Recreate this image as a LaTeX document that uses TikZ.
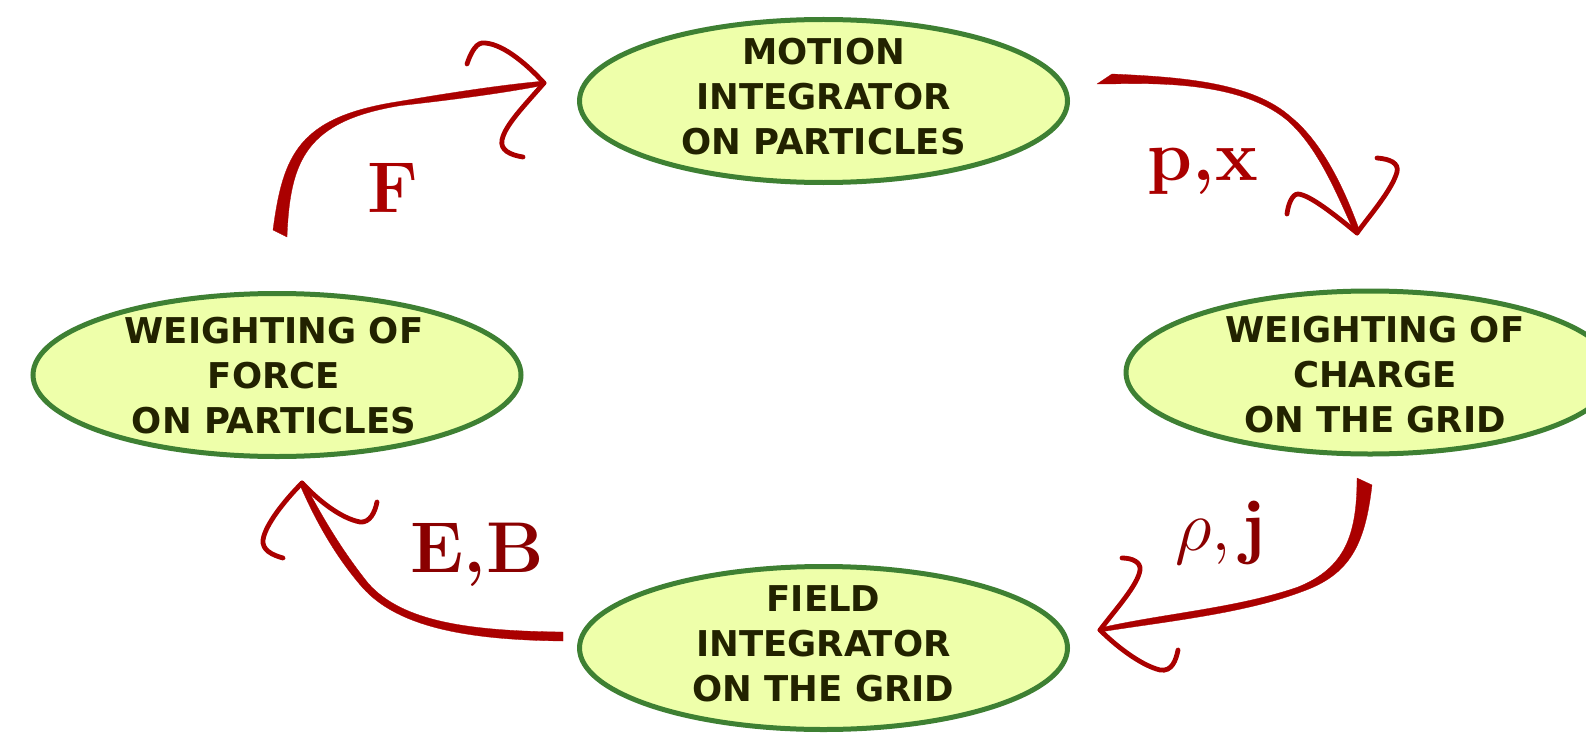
\RequirePackage{fix-cm}
\documentclass[tikz,border=0pt]{standalone}
\usepackage{fontspec}
\newfontfamily\nodefont{DejaVu Sans}
\usetikzlibrary{shapes.geometric}
\definecolor{arrred}{HTML}{AA0000}
\definecolor{labred}{HTML}{8A0000}
\definecolor{bubfill}{HTML}{EEFFAA}
\definecolor{bubline}{HTML}{3E8033}
\definecolor{txtdark}{HTML}{222200}
\begin{document}
\begin{tikzpicture}[x=1pt,y=-1pt,
 bubble/.style={ellipse, draw=bubline, fill=bubfill, line width=5pt, minimum width=488pt, minimum height=163pt, inner sep=0pt},
 btext/.style={font=\nodefont\bfseries\fontsize{35.5}{45}\selectfont, text=txtdark, align=center, inner sep=0pt},
 shaft/.style={fill=arrred, draw=arrred, line width=0.3pt, line join=round},
 barb/.style={draw=arrred, line width=4.8pt, line cap=round},
 lab/.style={font=\fontsize{72}{80}\selectfont, anchor=base, inner sep=0pt}]
\useasboundingbox (0,0) rectangle (1586,733);

% bubbles
\node[bubble] (motion) at (823.5,101) {};
\node[bubble] (charge) at (1370,372.5) {};
\node[bubble] (field) at (823.5,648) {};
\node[bubble] (force) at (277,375) {};
\node[btext] (motiont) at (823.5,97) {MOTION\\INTEGRATOR\\ON PARTICLES};
\node[btext] (charget) at (1375,375) {WEIGHTING OF\\CHARGE\\ON THE GRID};
\node[btext] (fieldt) at (823.5,644) {FIELD\\INTEGRATOR\\ON THE GRID};
\node[btext] (forcet) at (274,375.5) {WEIGHTING OF\\FORCE\\ON PARTICLES};

% tips
\coordinate (tipF) at (544,83);
\coordinate (tipP) at (1357,233);
\coordinate (tipE) at (302,483);
\coordinate (tipR) at (1100,630);

% arrow F
\path[shaft] (273,230) .. controls (283,155) and (298,117) .. (399,101.5)
  .. controls (460,91) and (510,84) .. (545,81) -- (545,85)
  .. controls (510,92) and (460,99) .. (401,105.5)
  .. controls (306,121) and (290,160) .. (287,237) -- cycle;
\draw[barb] (tipF) .. controls (525,62) and (500,42) .. (482,43) .. controls (475,44) and (470,55) .. (467,64);
\draw[barb] (tipF) .. controls (525,105) and (505,125) .. (502,140) .. controls (500,150) and (510,155) .. (523,157);

% arrow p,x
\path[shaft] (1097,84) -- (1112,74) .. controls (1180,77) and (1252,82) .. (1291,117)
  .. controls (1323,143) and (1345,190) .. (1360,232) -- (1355,234)
  .. controls (1336,192) and (1318,148) .. (1288,121)
  .. controls (1248,87) and (1180,82) .. (1110,84) -- cycle;
\draw[barb] (tipP) .. controls (1335,215) and (1310,195) .. (1298,194) .. controls (1292,194) and (1288,205) .. (1287,214);
\draw[barb] (tipP) .. controls (1370,215) and (1392,190) .. (1397,172) .. controls (1399,163) and (1390,159) .. (1377,158);

% arrow E,B
\path[shaft] (563,632) .. controls (470,631) and (402,622) .. (368,583)
  .. controls (344,553) and (323,519) .. (304,482) -- (300,485)
  .. controls (316,522) and (336,557) .. (362,587)
  .. controls (398,628) and (470,640) .. (563,641) -- cycle;
\draw[barb] (tipE) .. controls (285,500) and (265,525) .. (263,540) .. controls (262,550) and (272,555) .. (283,558);
\draw[barb] (tipE) .. controls (318,500) and (340,518) .. (360,522) .. controls (370,523) and (375,512) .. (377,502);

% arrow rho,j
\path[shaft] (1357,478) -- (1372,485) .. controls (1365,545) and (1350,575) .. (1301,592)
  .. controls (1242,614) and (1162,622) .. (1100,632) -- (1100,628)
  .. controls (1160,614) and (1238,608) .. (1298,587)
  .. controls (1345,568) and (1357,535) .. (1357,478) -- cycle;
\draw[barb] (tipR) .. controls (1115,610) and (1138,585) .. (1140,570) .. controls (1141,562) and (1132,558) .. (1122,558);
\draw[barb] (tipR) .. controls (1115,645) and (1140,665) .. (1160,670) .. controls (1172,672) and (1176,660) .. (1178,650);

% labels
\node[lab, text=arrred] (labF) at (393,212) {\textbf{F}};
\node[lab, text=arrred] (labP) at (1203,180) {\textbf{p,x}};
\node[lab, text=labred] (labE) at (477,572) {\textbf{E,B}};
\node[lab, text=labred] (labR) at (1220,550) {$\rho,\mathbf{j}$};
\end{tikzpicture}
\end{document}
